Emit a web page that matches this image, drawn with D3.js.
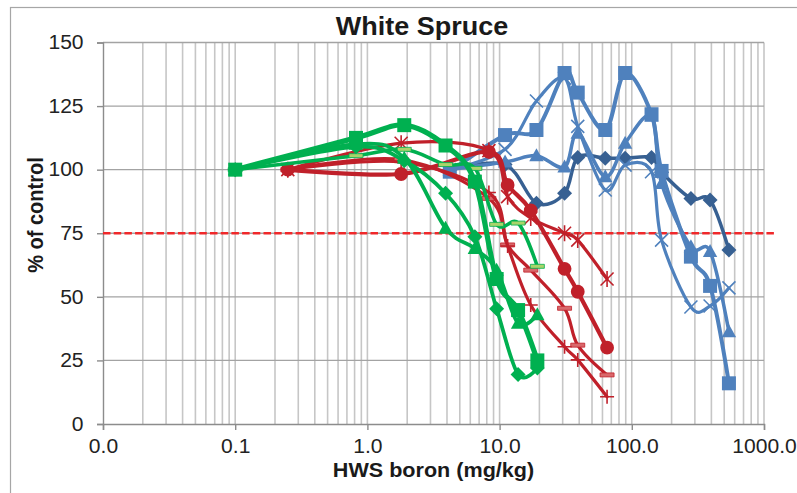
<!DOCTYPE html>
<html>
<head>
<meta charset="utf-8">
<script src="https://cdn.jsdelivr.net/npm/d3@7"></script>
<style>
  html, body { margin: 0; padding: 0; background: #fff; }
  svg { display: block; font-family: "Liberation Sans", Arial, sans-serif; }
</style>
</head>
<body>
<svg id="chart" width="797" height="493"></svg>
<script>
// ---- Axis definitions ----
const xTickValues = [0.01, 0.1, 1, 10, 100, 1000];
const xTickLabels = ["0.0", "0.1", "1.0", "10.0", "100.0", "1000.0"];
const yTickValues = [0, 25, 50, 75, 100, 125, 150];
const threshold = 75;

// ---- HWS boron doses (mg/kg) ----
const greenDose = [0.1, 0.82, 1.9, 3.9, 6.5, 9.5, 13.8, 19.3];
const redDose   = [0.25, 1.8, 8.3, 11.5, 17.2, 31, 39, 65];
const blueDose  = [4.2, 11, 19, 31, 39, 63, 89, 141, 168, 280, 391, 543];

// ---- Response (% of control) ----
const greenSquare   = [100, 112.5, 117.5, 109.5, 95.3, 57, 44.8, 25];
const greenTriangle = [100, 110, 104.5, 77, 69, 60.5, 39.6, 43];
const greenDiamond  = [100, 109, 103.5, 90.7, 73.6, 45.3, 19.5, 22];
const greenDash     = [100, 105.5, 108, 102, 100.5, 78.5, 79, 62];

const redCircle = [100, 98.3, 107, 94, 84, 61, 52, 30];
const redStar   = [100, 110.4, 107.5, 89.4, 81, 75, 72.3, 57];
const redPlus   = [100, 103, 91, 70, 46.8, 30.4, 25.2, 10.7];
const redDash   = [100, 104, 88.7, 70.4, 60.5, 45.5, 31, 19.3];

const blueSquare   = [99.2, 113.6, 115.6, 138, 130.3, 115.6, 138, 121.8, 99.5, 65.8, 54.3, 16];
const blueTriangle = [100, 103, 105.5, 101, 114.3, 97.2, 110.4, 121, 94.6, 69.7, 67.8, 36.3];
const blueDiamond  = [100, 102, 86.8, 90.7, 104.8, 104.5, 104.5, 104.8, 99, 88.7, 88.1, 68.4];
const blueCross    = [100, 108, 127, 136, 117, 92, 101.8, 99.2, 72.3, 46, 46.4, 53.5];

// ---- Colours ----
const GREEN = "#00b050", RED = "#c0202a", BLUE = "#4f81bd", DARKBLUE = "#376092";

const series = [
  { dose: blueDose, values: blueDiamond,  color: DARKBLUE, marker: "diamond", width: 3.5 },
  { dose: blueDose, values: blueCross,    color: BLUE, marker: "cross",    width: 3.2 },
  { dose: blueDose, values: blueTriangle, color: BLUE, marker: "triangle", width: 3.5 },
  { dose: blueDose, values: blueSquare,   color: BLUE, marker: "square",   width: 4 },
  { dose: redDose,  values: redDash,   color: RED, marker: "dash", dashFill: "#d9686b", width: 3.2 },
  { dose: redDose,  values: redPlus,   color: RED, marker: "plus",   width: 3.2 },
  { dose: redDose,  values: redStar,   color: RED, marker: "star",   width: 3.2 },
  { dose: redDose,  values: redCircle, color: RED, marker: "circle", width: 4.2 },
  { dose: greenDose, values: greenDash,     color: GREEN, marker: "dash", dashFill: "#a9d46a", width: 3.5 },
  { dose: greenDose, values: greenDiamond,  color: GREEN, marker: "diamond",  width: 3.8 },
  { dose: greenDose, values: greenTriangle, color: GREEN, marker: "triangle", width: 3.8 },
  { dose: greenDose, values: greenSquare,   color: GREEN, marker: "square",   width: 5.2 }
];

// ---- Layout ----
const svg = d3.select("#chart");
const plot = { left: 103, right: 764, top: 42.5, bottom: 424 };
const x = d3.scaleLog().domain([0.01, 1000]).range([plot.left, plot.right]);
const y = d3.scaleLinear().domain([0, 150]).range([plot.bottom, plot.top]);
const STRETCH = 1.08;

// outer frame
svg.append("rect")
  .attr("x", 10.5).attr("y", 7.5).attr("width", 900).attr("height", 900)
  .attr("fill", "none").attr("stroke", "#a6a6a6").attr("stroke-width", 1.2);

// vertical (major + minor) grid lines
svg.append("g").selectAll("line")
  .data(x.ticks().filter(d => d > 0.01))
  .join("line")
  .attr("x1", d => x(d)).attr("x2", d => x(d))
  .attr("y1", plot.top).attr("y2", plot.bottom)
  .attr("stroke", "#c6c6c6").attr("stroke-width", 1.6);

// horizontal grid lines
svg.append("g").selectAll("line")
  .data(yTickValues.filter(d => d > 0))
  .join("line")
  .attr("x1", plot.left).attr("x2", plot.right)
  .attr("y1", d => y(d)).attr("y2", d => y(d))
  .attr("stroke", "#a3a3a3").attr("stroke-width", 1.4);

// axes
const xAxis = svg.append("g")
  .attr("transform", `translate(0,${plot.bottom})`)
  .call(d3.axisBottom(x).tickValues(xTickValues)
    .tickFormat((d, i) => xTickLabels[i]).tickSize(6).tickPadding(9));
const yAxis = svg.append("g")
  .attr("transform", `translate(${plot.left},0)`)
  .call(d3.axisLeft(y).tickValues(yTickValues).tickSize(6).tickPadding(12));

[xAxis, yAxis].forEach(g => {
  g.select(".domain").attr("stroke", "#8c8c8c").attr("stroke-width", 1.4);
  g.selectAll(".tick line").attr("stroke", "#8c8c8c").attr("stroke-width", 1.4);
  g.selectAll(".tick text")
    .attr("fill", "#222").attr("font-size", "19.5px")
    .attr("font-family", "Liberation Sans, Arial, sans-serif")
    .attr("transform", `scale(${STRETCH},1)`);
});

// threshold line
svg.append("line")
  .attr("x1", x(0.01)).attr("x2", x(1200))
  .attr("y1", y(threshold)).attr("y2", y(threshold))
  .attr("stroke", "#f0282a").attr("stroke-width", 2.6)
  .attr("stroke-dasharray", "7.5,3.2");

// marker shapes
function markerPath(type) {
  switch (type) {
    case "square":   return "M-7,-7H7V7H-7Z";
    case "diamond":  return "M0,-7.5L7.5,0L0,7.5L-7.5,0Z";
    case "triangle": return "M0,-7.5L7.2,5.5H-7.2Z";
    case "circle":   return d3.symbol(d3.symbolCircle, 150)();
    case "star":     return "M-6.5,-6.5L6.5,6.5M-6.5,6.5L6.5,-6.5M0,-8L0,8";
    case "plus":     return "M-7,0H7M0,-7V7";
    case "cross":    return "M-6.5,-6.5L6.5,6.5M-6.5,6.5L6.5,-6.5";
    case "dash":     return "M-7,-2H7V2H-7Z";
  }
}

const line = d3.line().curve(d3.curveCardinal.tension(0));

series.forEach(s => {
  const pts = s.dose.map((d, i) => [x(d), y(s.values[i])]);
  const g = svg.append("g");
  g.append("path")
    .attr("d", line(pts))
    .attr("fill", "none").attr("stroke", s.color)
    .attr("stroke-width", s.width)
    .attr("stroke-linejoin", "round").attr("stroke-linecap", "round");
  const open = ["star", "plus", "cross"].includes(s.marker);
  g.selectAll("path.m").data(pts).join("path")
    .attr("class", "m")
    .attr("transform", p => `translate(${p[0]},${p[1]})`)
    .attr("d", markerPath(s.marker))
    .attr("fill", open ? "none" : (s.marker === "dash" ? s.dashFill : s.color))
    .attr("stroke", s.color)
    .attr("stroke-width", open ? 1.6 : (s.marker === "dash" ? 0.8 : 0));
});

// titles
svg.append("text")
  .attr("transform", `translate(422,35) scale(${STRETCH},1)`)
  .attr("text-anchor", "middle").attr("font-weight", "bold")
  .attr("font-size", "25px").attr("fill", "#1a1a1a")
  .text("White Spruce");

svg.append("text")
  .attr("transform", `translate(433.5,477) scale(${STRETCH},1)`)
  .attr("text-anchor", "middle").attr("font-weight", "bold")
  .attr("font-size", "20px").attr("fill", "#1a1a1a")
  .text("HWS boron (mg/kg)");

svg.append("text")
  .attr("transform", `translate(43,215) scale(${STRETCH},1) rotate(-90)`)
  .attr("text-anchor", "middle").attr("font-weight", "bold")
  .attr("font-size", "20px").attr("fill", "#1a1a1a")
  .text("% of control");
</script>
</body>
</html>
